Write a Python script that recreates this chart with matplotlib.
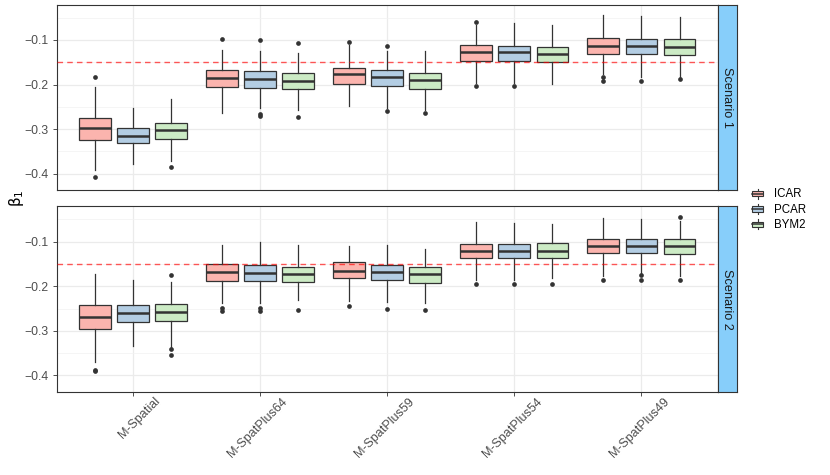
import numpy as np
import matplotlib.pyplot as plt
from matplotlib.legend_handler import HandlerBase
from matplotlib.patches import Rectangle, Patch
from matplotlib.lines import Line2D
from matplotlib.transforms import ScaledTranslation

plt.rcParams['font.family'] = ['Liberation Sans', 'DejaVu Sans']

# Models on the x axis, priors as the fill groups
models = ['M-Spatial', 'M-SpatPlus64', 'M-SpatPlus59', 'M-SpatPlus54', 'M-SpatPlus49']
priors = ['ICAR', 'PCAR', 'BYM2']
prior_colors = ['#FBB4AE', '#B3CDE3', '#CCEBC5']
scenarios = ['Scenario 1', 'Scenario 2']
true_beta1 = -0.15

# Box summaries per model: (lower whisker, q1, median, q3, upper whisker)
s1_icar = [(-0.391, -0.325, -0.297, -0.274, -0.205),
           (-0.263, -0.206, -0.185, -0.167, -0.122),
           (-0.248, -0.199, -0.177, -0.162, -0.112),
           (-0.197, -0.147, -0.128, -0.111, -0.067),
           (-0.176, -0.131, -0.113, -0.096, -0.044)]
s1_icar_out = [[-0.408, -0.183], [-0.098], [-0.105], [-0.204, -0.060], [-0.182, -0.192]]

s1_pcar = [(-0.379, -0.332, -0.315, -0.297, -0.252),
           (-0.252, -0.208, -0.187, -0.169, -0.125),
           (-0.253, -0.203, -0.182, -0.167, -0.124),
           (-0.197, -0.148, -0.128, -0.113, -0.063),
           (-0.184, -0.132, -0.114, -0.097, -0.047)]
s1_pcar_out = [[], [-0.101, -0.267, -0.270], [-0.113, -0.259], [-0.204], [-0.191]]

s1_bym2 = [(-0.371, -0.323, -0.303, -0.287, -0.232),
           (-0.258, -0.211, -0.191, -0.175, -0.130),
           (-0.257, -0.210, -0.190, -0.173, -0.124),
           (-0.199, -0.150, -0.131, -0.115, -0.066),
           (-0.182, -0.134, -0.115, -0.098, -0.049)]
s1_bym2_out = [[-0.386], [-0.107, -0.272], [-0.263], [], [-0.187]]

s2_icar = [(-0.371, -0.297, -0.270, -0.243, -0.173),
           (-0.237, -0.188, -0.169, -0.150, -0.108),
           (-0.232, -0.182, -0.165, -0.146, -0.109),
           (-0.185, -0.137, -0.120, -0.105, -0.057),
           (-0.176, -0.126, -0.109, -0.094, -0.048)]
s2_icar_out = [[-0.388, -0.391], [-0.249, -0.255], [-0.244], [-0.195], [-0.185]]

s2_pcar = [(-0.334, -0.281, -0.261, -0.242, -0.187),
           (-0.238, -0.189, -0.170, -0.153, -0.100),
           (-0.235, -0.187, -0.168, -0.152, -0.107),
           (-0.185, -0.137, -0.120, -0.105, -0.058),
           (-0.170, -0.126, -0.109, -0.094, -0.049)]
s2_pcar_out = [[], [-0.249, -0.255], [-0.250], [-0.194], [-0.175, -0.186]]

s2_bym2 = [(-0.336, -0.279, -0.258, -0.239, -0.191),
           (-0.230, -0.191, -0.173, -0.156, -0.108),
           (-0.238, -0.192, -0.173, -0.157, -0.116),
           (-0.181, -0.137, -0.120, -0.104, -0.060),
           (-0.176, -0.127, -0.109, -0.094, -0.054)]
s2_bym2_out = [[-0.175, -0.341, -0.354], [-0.253], [-0.253], [-0.194], [-0.045, -0.185]]

panels = [
    [(s1_icar, s1_icar_out), (s1_pcar, s1_pcar_out), (s1_bym2, s1_bym2_out)],
    [(s2_icar, s2_icar_out), (s2_pcar, s2_pcar_out), (s2_bym2, s2_bym2_out)],
]


def make_stats(rows, outs):
    """Turn summary tuples into the dicts that bxp wants"""
    return [dict(whislo=r[0], q1=r[1], med=r[2], q3=r[3], whishi=r[4], fliers=o)
            for r, o in zip(rows, outs)]


class BoxKey(HandlerBase):
    """Small boxplot glyph for the legend"""

    def create_artists(self, legend, orig_handle, xdescent, ydescent,
                       width, height, fontsize, trans):
        x0, y0 = -xdescent, -ydescent
        cx = x0 + width / 2
        bw, bh = width * 0.92, height * 0.55
        whisk = Line2D([cx, cx], [y0, y0 + height], color='#333333', lw=0.8,
                       transform=trans)
        box = Rectangle((cx - bw / 2, y0 + (height - bh) / 2), bw, bh,
                        facecolor=orig_handle.get_facecolor(), edgecolor='#333333',
                        lw=0.8, transform=trans)
        med = Line2D([cx - bw / 2, cx + bw / 2], [y0 + height / 2] * 2,
                     color='#333333', lw=1.1, transform=trans)
        return [whisk, box, med]


fig = plt.figure(figsize=(8.3, 4.75), dpi=100)

base = np.arange(1, len(models) + 1)
offsets = (np.arange(len(priors)) - 1) * 0.3
edge = '#333333'

axes = []
for i, scen in enumerate(scenarios):
    bottom = 0.600 if i == 0 else 0.1754
    ax = fig.add_axes([0.0683, bottom, 0.7964, 0.390])
    strip = fig.add_axes([0.8647, bottom, 0.0233, 0.390])
    axes.append(ax)

    # Boxes for each prior, dodged around the model position
    for j, (rows, outs) in enumerate(panels[i]):
        ax.bxp(make_stats(rows, outs), positions=base + offsets[j], widths=0.25,
               patch_artist=True, showcaps=False, manage_ticks=False,
               boxprops=dict(facecolor=prior_colors[j], edgecolor=edge, linewidth=0.9),
               medianprops=dict(color=edge, linewidth=1.8),
               whiskerprops=dict(color=edge, linewidth=0.9),
               flierprops=dict(marker='o', markerfacecolor=edge, markeredgecolor='none',
                               markersize=3.4))

    # True value of beta_1
    ax.axhline(true_beta1, color='#FF0000', alpha=0.65, lw=1.0, ls=(0, (4, 3)), zorder=5)

    ax.set_xlim(0.4, 5.6)
    ax.set_ylim(-0.4365, -0.021)
    ax.set_xticks(base)
    ax.set_yticks([-0.4, -0.3, -0.2, -0.1])
    ax.set_yticks([-0.35, -0.25, -0.15, -0.05], minor=True)
    ax.set_axisbelow(True)
    ax.grid(which='major', color='#EBEBEB', lw=0.9)
    ax.grid(which='minor', axis='y', color='#F2F2F2', lw=0.5)
    ax.tick_params(axis='both', which='major', colors=edge, labelcolor='#4D4D4D',
                   labelsize=8.8, length=2.75, width=0.6, pad=3.5)
    ax.tick_params(axis='y', which='minor', length=0)
    for sp in ax.spines.values():
        sp.set_color(edge)
        sp.set_linewidth(0.8)

    # Facet strip on the right
    strip.set_facecolor('#87CEFA')
    strip.set_xticks([])
    strip.set_yticks([])
    for sp in strip.spines.values():
        sp.set_color(edge)
        sp.set_linewidth(0.8)
    strip.text(0.5, 0.5, scen, rotation=-90, ha='center', va='center',
               fontsize=9.2, color='#1A1A1A', transform=strip.transAxes)

axes[0].tick_params(axis='x', length=0, labelbottom=False)
axes[1].set_xticklabels(models, rotation=45, ha='right', va='center',
                        rotation_mode='anchor', fontsize=9)
shift = ScaledTranslation(0.257, 0.007, fig.dpi_scale_trans)
for lab in axes[1].get_xticklabels():
    lab.set_transform(lab.get_transform() + shift)

fig.text(0.02, 0.583, r'$\mathrm{\beta}_1$', rotation=90, fontsize=11,
         ha='center', va='center')

handles = [Patch(facecolor=c, label=p) for p, c in zip(priors, prior_colors)]
fig.legend(handles=handles, handler_map={Patch: BoxKey()}, loc='center left',
           bbox_to_anchor=(0.906, 0.558), frameon=False, fontsize=8.3,
           handlelength=1.0, handleheight=0.95, handletextpad=0.9,
           labelspacing=0.3, borderpad=0, borderaxespad=0)

fig.savefig('out.png', dpi=100)
